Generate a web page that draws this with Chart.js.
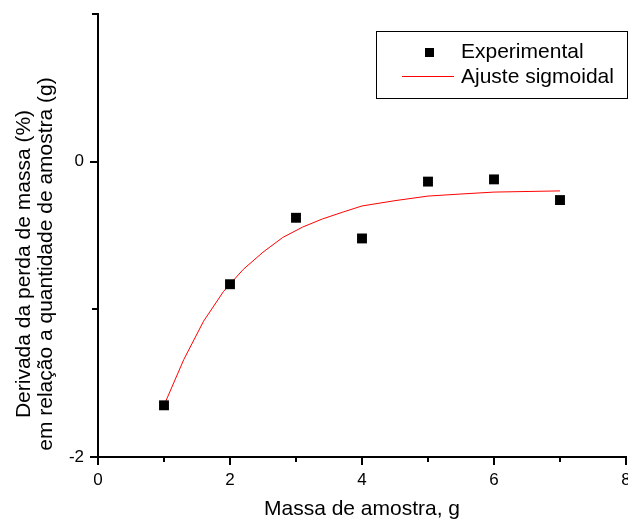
<!DOCTYPE html>
<html>
<head>
<meta charset="utf-8">
<script src="https://cdn.jsdelivr.net/npm/chart.js@4/dist/chart.umd.min.js"></script>
<style>
  html, body { margin: 0; padding: 0; background: #fff; }
  #wrap { width: 628px; height: 522px; }
</style>
</head>
<body>
<div id="wrap"><canvas id="c" width="628" height="522"></canvas></div>
<script>
// ---- data ----
const expX = [1, 2, 3, 4, 5, 6, 7];
const expY = [-1.65, -0.83, -0.38, -0.52, -0.135, -0.12, -0.26];
const fitX = [1, 1.3, 1.6, 1.9, 2.2, 2.5, 2.8, 3.1, 3.4, 3.7, 4, 4.5, 5, 5.5, 6, 6.5, 7];
const fitY = [-1.65, -1.34, -1.08, -0.88, -0.73, -0.613, -0.513, -0.443, -0.388, -0.343, -0.30, -0.264, -0.233, -0.219, -0.206, -0.202, -0.198];
const xMajorTicks = [0, 2, 4, 6, 8];
const xMinorTicks = [1, 3, 5, 7];
const yMajorTicks = [-2, 0];
const yMinorTicks = [-1, 1];
const seriesLabels = ['Experimental', 'Ajuste sigmoidal'];
const xTitle = 'Massa de amostra, g';
const yTitleLines = ['Derivada da perda de massa (%)', 'em relação a quantidade de amostra (g)'];

const FONT = '"Liberation Sans", Arial, sans-serif';

const ticksPlugin = {
  id: 'ticksPlugin',
  afterDraw(chart) {
    const ctx = chart.ctx;
    const xs = chart.scales.x, ys = chart.scales.y;
    const area = chart.chartArea;
    ctx.save();
    ctx.strokeStyle = '#000';
    ctx.lineWidth = 2;
    ctx.beginPath();
    xMajorTicks.forEach(v => { const p = Math.round(xs.getPixelForValue(v)); ctx.moveTo(p, area.bottom); ctx.lineTo(p, area.bottom + 8); });
    xMinorTicks.forEach(v => { const p = Math.round(xs.getPixelForValue(v)); ctx.moveTo(p, area.bottom); ctx.lineTo(p, area.bottom + 5); });
    yMajorTicks.forEach(v => { const p = Math.round(ys.getPixelForValue(v)); ctx.moveTo(area.left, p); ctx.lineTo(area.left - 8, p); });
    yMinorTicks.forEach(v => { const p = Math.round(ys.getPixelForValue(v)); ctx.moveTo(area.left, p); ctx.lineTo(area.left - 6, p); });
    ctx.stroke();

    // y-axis title (two lines, rotated)
    ctx.fillStyle = '#000';
    ctx.font = '21px ' + FONT;
    ctx.textAlign = 'center';
    ctx.textBaseline = 'middle';
    const cy = 264;
    [24, 46].forEach((x, i) => {
      ctx.save();
      ctx.translate(x, cy);
      ctx.rotate(-Math.PI / 2);
      ctx.fillText(yTitleLines[i], 0, 0);
      ctx.restore();
    });

    // legend box
    ctx.lineWidth = 1;
    ctx.strokeRect(376.5, 31.5, 251, 67);
    ctx.textAlign = 'left';
    ctx.fillStyle = '#000';
    ctx.fillRect(425, 48, 9, 9);
    ctx.fillText(seriesLabels[0], 461, 52);
    ctx.strokeStyle = '#ff0000';
    ctx.beginPath();
    ctx.moveTo(402, 76.5);
    ctx.lineTo(454, 76.5);
    ctx.stroke();
    ctx.fillText(seriesLabels[1], 461, 77);
    ctx.restore();
  }
};

new Chart(document.getElementById('c'), {
  type: 'scatter',
  data: {
    datasets: [
      {
        label: seriesLabels[1],
        type: 'line',
        data: fitX.map((x, i) => ({ x: x, y: fitY[i] })),
        borderColor: '#ff0000',
        borderWidth: 1,
        pointRadius: 0,
        tension: 0,
        fill: false,
        order: 2
      },
      {
        label: seriesLabels[0],
        data: expX.map((x, i) => ({ x: x, y: expY[i] })),
        pointStyle: 'rect',
        pointRadius: 7,
        borderWidth: 0,
        backgroundColor: '#000',
        borderColor: '#000',
        order: 1
      }
    ]
  },
  options: {
    responsive: false,
    animation: false,
    devicePixelRatio: 1,
    layout: { autoPadding: false, padding: { top: 14, right: 2, left: 0, bottom: 0 } },
    plugins: { legend: { display: false }, tooltip: { enabled: false } },
    scales: {
      x: {
        type: 'linear',
        min: 0, max: 8,
        grid: { display: false, drawTicks: false },
        border: { display: true, color: '#000', width: 2 },
        ticks: {
          stepSize: 2,
          padding: 13,
          color: '#000',
          font: { family: FONT, size: 17 },
          callback: v => xMajorTicks.includes(v) ? String(v) : ''
        },
        title: {
          display: true,
          text: xTitle,
          color: '#000',
          font: { family: FONT, size: 21, lineHeight: 1.2 },
          padding: 0
        },
        afterFit(scale) { scale.height = 65; scale.paddingLeft = 0; scale.paddingRight = 0; }
      },
      y: {
        type: 'linear',
        min: -2, max: 1,
        grid: { display: false, drawTicks: false },
        border: { display: true, color: '#000', width: 2 },
        ticks: {
          stepSize: 1,
          padding: 14,
          color: '#000',
          font: { family: FONT, size: 17 },
          callback: v => yMajorTicks.includes(v) ? String(v) : ''
        },
        afterFit(scale) { scale.width = 98; scale.paddingTop = 0; scale.paddingBottom = 0; }
      }
    }
  },
  plugins: [ticksPlugin]
});
</script>
</body>
</html>
